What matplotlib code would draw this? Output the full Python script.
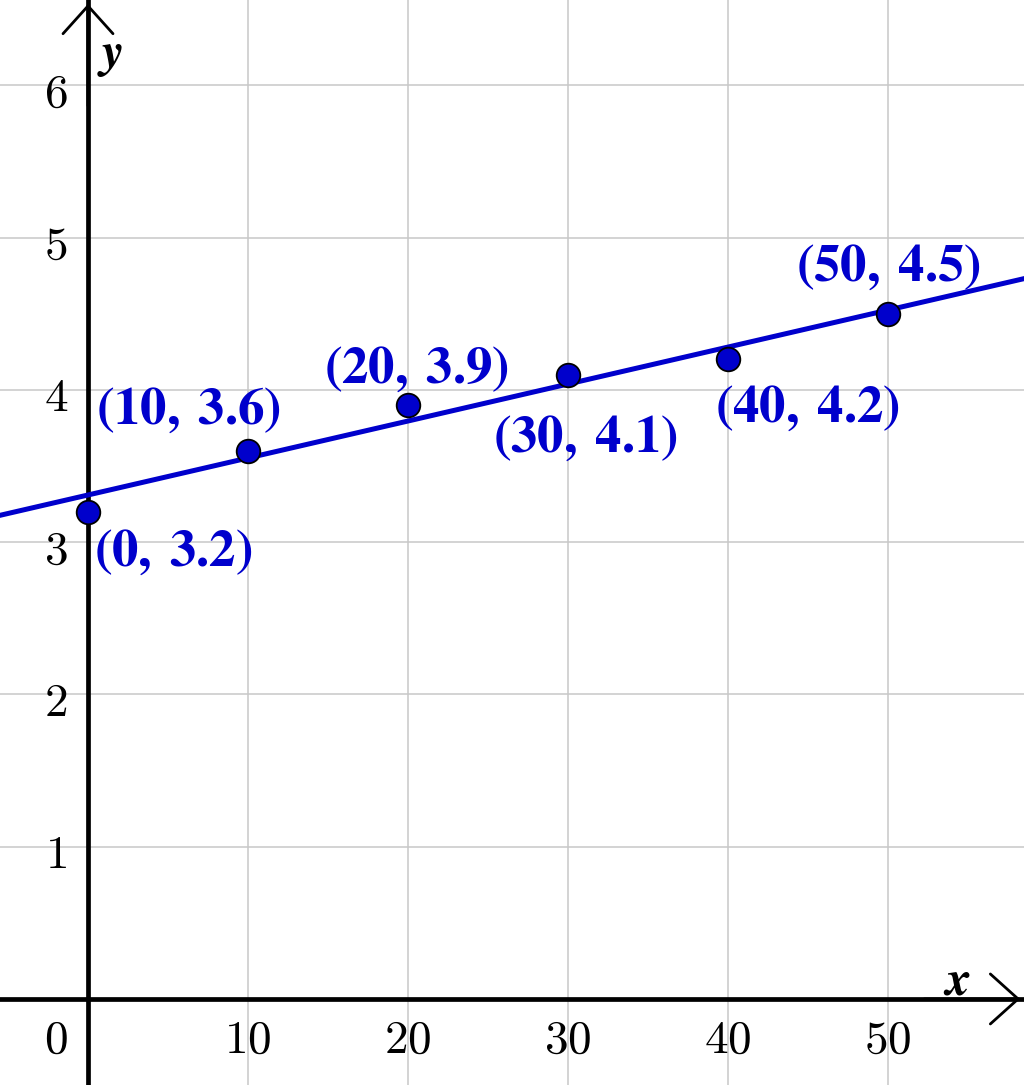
import numpy as np
import matplotlib
matplotlib.use("Agg")
import matplotlib.pyplot as plt

plt.rcParams["mathtext.fontset"] = "cm"

# data points
x_vals = [0, 10, 20, 30, 40, 50]
y_vals = [3.2, 3.6, 3.9, 4.1, 4.2, 4.5]
# label offsets (pixels) from each point
label_offsets = [(85, -39), (-60, 42), (8, 37), (17, -62), (79, -48), (0, 48)]

x_ticks = [10, 20, 30, 40, 50]
y_ticks = [1, 2, 3, 4, 5, 6]

BLUE = "#0000cc"

fig = plt.figure(figsize=(10.24, 10.85), dpi=100)
ax = fig.add_axes([0, 0, 1, 1])
ax.set_xlim(-5.5, 58.5)
ax.set_ylim(-0.565, 6.56)
for s in ax.spines.values():
    s.set_visible(False)
ax.set_xticks([])
ax.set_yticks([])

# grid
for xv in x_ticks:
    ax.axvline(xv, color="#c8c8c8", lw=1.1, zorder=0)
for yv in y_ticks:
    ax.axhline(yv, color="#c8c8c8", lw=1.1, zorder=0)

# axes lines with arrows
ax.axhline(0, color="black", lw=3.4, zorder=1)
ax.axvline(0, color="black", lw=3.4, zorder=1)
arrow = dict(arrowstyle="->,head_length=1.0,head_width=0.9",
             color="black", lw=2.0, mutation_scale=20)
ax.annotate("", xy=(0, 0.999), xycoords=("data", "axes fraction"),
            xytext=(0, 0.9), textcoords=("data", "axes fraction"),
            arrowprops=arrow)
ax.annotate("", xy=(0.999, 0), xycoords=("axes fraction", "data"),
            xytext=(0.9, 0), textcoords=("axes fraction", "data"),
            arrowprops=arrow)
ax.text(1.4, 6.2, r"$\boldsymbol{y}$", fontsize=36, ha="center", va="center")
ax.text(54.3, 0.12, r"$\boldsymbol{x}$", fontsize=36, ha="center", va="center")

# tick labels
for xv in x_ticks:
    ax.text(xv, -0.27, r"$\mathrm{%d}$" % xv, fontsize=34, ha="center", va="center")
for yv in y_ticks:
    ax.text(-2.0, yv - 0.06, r"$\mathrm{%d}$" % yv, fontsize=34, ha="center", va="center")
ax.text(-2.0, -0.27, r"$\mathrm{0}$", fontsize=34, ha="center", va="center")

# regression line
slope, intercept = np.polyfit(x_vals, y_vals, 1)
xs = np.array([-5.5, 58.5])
ax.plot(xs, slope * xs + intercept, color=BLUE, lw=3.6, zorder=3)

# points
ax.plot(x_vals, y_vals, "o", ms=17, mfc=BLUE, mec="black", mew=1.3, zorder=4)

for xv, yv, (dx, dy) in zip(x_vals, y_vals, label_offsets):
    ax.annotate(r"$\mathbf{(%g,\;%.1f)}$" % (xv, yv), xy=(xv, yv),
                xytext=(dx, dy), textcoords="offset pixels",
                ha="center", va="center", fontsize=38, color=BLUE, zorder=5,
                math_fontfamily="stix")

fig.savefig("out.png", dpi=100)
